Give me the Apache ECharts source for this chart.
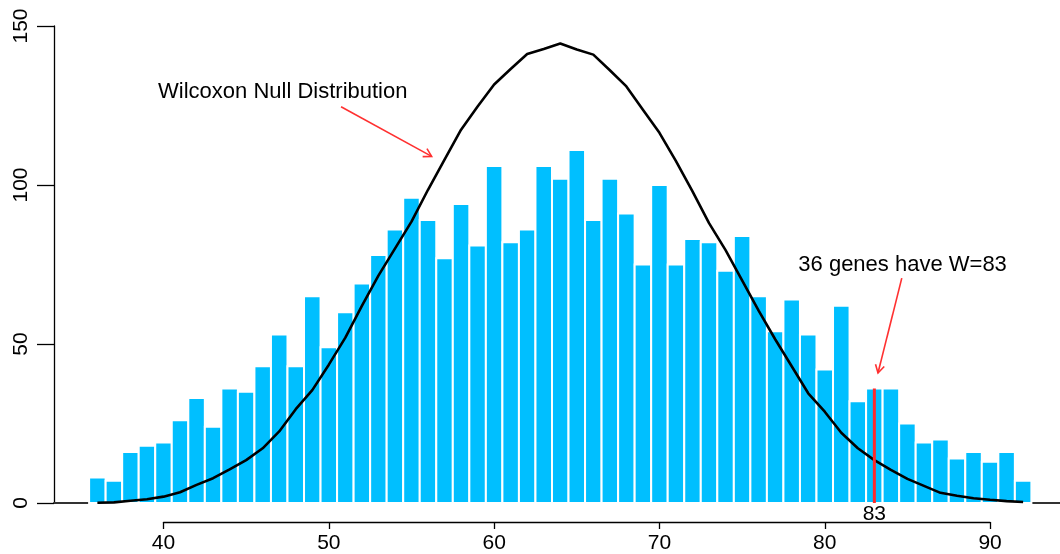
<!DOCTYPE html>
<html><head><meta charset="utf-8">
<script src="https://cdn.jsdelivr.net/npm/echarts@6/dist/echarts.min.js"></script>
<style>html,body{margin:0;padding:0;background:#fff}#c{width:1060px;height:554px}</style>
</head><body><div id="c"></div>
<script>
// ---- data ----
const wValues = [36,37,38,39,40,41,42,43,44,45,46,47,48,49,50,51,52,53,54,55,56,57,58,59,60,61,62,63,64,
  65,66,67,68,69,70,71,72,73,74,75,76,77,78,79,80,81,82,83,84,85,86,87,88,89,90,91,92];
const geneCounts = [8,7,16,18,19,26,33,24,36,35,43,53,43,65,49,60,69,78,86,96,89,77,94,81,106,82,86,106,102,
  111,89,102,91,75,100,75,83,82,73,84,65,54,64,53,42,62,32,36,36,25,19,20,14,16,13,16,7];
const nullCurve = [0.1,0.2,0.7,1.2,2.0,3.4,5.7,7.8,10.6,13.5,17.2,22.5,29.5,35.5,43.5,52,62,71.5,80,88.5,98.5,108,117.4,124.7,131.6,136.5,141.2,142.8,144.5,
  142.6,141,136.1,131,123.7,116.4,107.5,98,88,79.5,70,60.5,51.5,43,34.5,28.7,22.1,17.2,13.5,10.4,7.6,5.4,3.2,2.3,1.5,1.0,0.6,0.3];
const observedW = 83;
const observedCount = 36;
const xTickValues = [40,50,60,70,80,90];
const yTickValues = [0,50,100,150];
const nullLabel = 'Wilcoxon Null Distribution';
const observedLabel = '36 genes have W=83';

// ---- layout / style ----
const FONT = '"Liberation Sans", Arial, Helvetica, sans-serif';
const W = 1060, H = 554;
const GRID = {left: 54, right: 0, top: 26, bottom: 51};
const X_MIN = 33.376, X_MAX = 94.23;
const plotW = W - GRID.left - GRID.right;
const px = v => GRID.left + (v - X_MIN) / (X_MAX - X_MIN) * plotW;
const tickGridLeft = px(xTickValues[0]);
const tickGridRight = W - px(xTickValues[xTickValues.length - 1]);
const annot = {
  nullText: {pos: [39.67, 129.2]},
  nullArrow: {from: [50.74, 124.6], to: [56.22, 109.0]},
  obsText: {pos: [78.40, 74.9]},
  obsArrow: {from: [84.66, 70.7], to: [83.22, 40.9]}
};

const barData = wValues.map((w, i) => [w, geneCounts[i]]);
const curveData = wValues.map((w, i) => [w, nullCurve[i]]);

function arrowShapes(api, from, to, color) {
  const a = api.coord(from), b = api.coord(to);
  const ang = Math.atan2(b[1] - a[1], b[0] - a[0]);
  const L = 9, spread = Math.PI / 6;
  const h1 = [b[0] - L * Math.cos(ang - spread), b[1] - L * Math.sin(ang - spread)];
  const h2 = [b[0] - L * Math.cos(ang + spread), b[1] - L * Math.sin(ang + spread)];
  const st = {stroke: color, lineWidth: 1.6, fill: null};
  return [
    {type: 'line', shape: {x1: a[0], y1: a[1], x2: b[0], y2: b[1]}, style: st},
    {type: 'polyline', shape: {points: [h1, b, h2]}, style: st}
  ];
}

const chart = echarts.init(document.getElementById('c'), null, {renderer: 'canvas'});
chart.setOption({
  animation: false,
  backgroundColor: '#ffffff',
  grid: [
    {left: GRID.left, right: GRID.right, top: GRID.top, bottom: GRID.bottom},
    {left: tickGridLeft, right: tickGridRight, top: GRID.top, bottom: GRID.bottom}
  ],
  xAxis: [
    {type: 'value', gridIndex: 0, min: X_MIN, max: X_MAX, position: 'bottom',
      axisLine: {show: true, onZero: false, lineStyle: {color: '#333', width: 2}},
      axisTick: {show: false}, splitLine: {show: false},
      axisLabel: {customValues: [observedW], fontSize: 21, fontFamily: FONT, color: '#000', margin: 1}},
    {type: 'value', gridIndex: 1, min: xTickValues[0], max: xTickValues[xTickValues.length - 1], interval: 10,
      position: 'bottom', offset: 21,
      axisLine: {show: true, onZero: false, lineStyle: {color: '#000', width: 1.3}},
      axisTick: {show: true, length: 7, lineStyle: {color: '#000', width: 1.3}},
      splitLine: {show: false},
      axisLabel: {fontSize: 21, fontFamily: FONT, color: '#000', margin: 11}}
  ],
  yAxis: [
    {type: 'value', gridIndex: 0, min: yTickValues[0], max: yTickValues[yTickValues.length - 1], interval: 50,
      axisLine: {show: true, lineStyle: {color: '#000', width: 1.3}},
      axisTick: {show: true, length: 17, lineStyle: {color: '#000', width: 1.3}},
      splitLine: {show: false},
      axisLabel: {rotate: 90, fontSize: 21, fontFamily: FONT, color: '#000', margin: 22}},
    {type: 'value', gridIndex: 1, min: 0, max: 150, show: false}
  ],
  series: [
    {
      type: 'custom', xAxisIndex: 0, yAxisIndex: 0, data: barData, z: 1,
      encode: {x: 0, y: 1},
      renderItem: function (params, api) {
        const w = api.value(0), c = api.value(1);
        const p0 = api.coord([w - 0.5, c]);
        const p1 = api.coord([w + 0.5, 0]);
        return {type: 'rect', shape: {x: p0[0], y: p0[1], width: p1[0] - p0[0], height: p1[1] - p0[1]},
          style: {fill: '#00BFFF', stroke: '#ffffff', lineWidth: 2}};
      }
    },
    {
      type: 'line', xAxisIndex: 0, yAxisIndex: 0, data: curveData, symbol: 'none', z: 3,
      lineStyle: {color: '#000', width: 2.6}, silent: true
    },
    {
      type: 'line', xAxisIndex: 0, yAxisIndex: 0, data: [[observedW, 0], [observedW, observedCount]], symbol: 'none', z: 4,
      lineStyle: {color: '#FF2A2A', width: 3}, silent: true
    },
    {
      type: 'custom', xAxisIndex: 0, yAxisIndex: 0, data: [[observedW, observedCount]], z: 5, clip: false,
      renderItem: function (params, api) {
        const t1 = api.coord(annot.nullText.pos), t2 = api.coord(annot.obsText.pos);
        const children = []
          .concat(arrowShapes(api, annot.nullArrow.from, annot.nullArrow.to, '#FF3030'))
          .concat(arrowShapes(api, annot.obsArrow.from, annot.obsArrow.to, '#FF3030'));
        children.push({type: 'text', x: t1[0], y: t1[1],
          style: {text: nullLabel, fill: '#000', font: '22px ' + FONT, textAlign: 'left', textVerticalAlign: 'middle', align: 'left', verticalAlign: 'middle'}});
        children.push({type: 'text', x: t2[0], y: t2[1],
          style: {text: observedLabel, fill: '#000', font: '22px ' + FONT, textAlign: 'left', textVerticalAlign: 'middle', align: 'left', verticalAlign: 'middle'}});
        return {type: 'group', children: children};
      }
    }
  ]
});
</script></body></html>
